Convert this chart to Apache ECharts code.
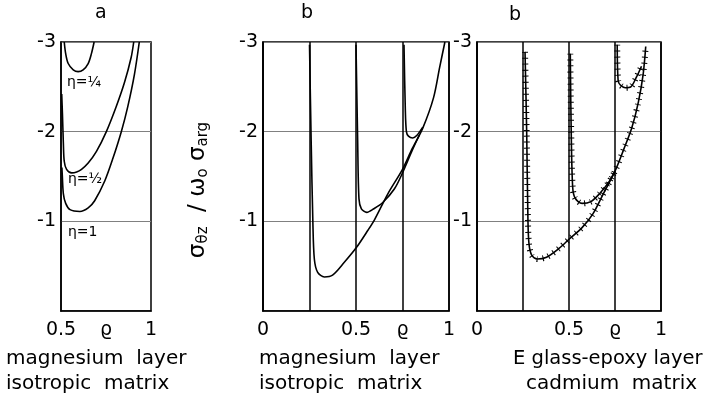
<!DOCTYPE html>
<html>
<head>
<meta charset="utf-8">
<script src="https://cdn.jsdelivr.net/npm/echarts@6/dist/echarts.min.js"></script>
<style>
  html, body { margin: 0; padding: 0; background: #fff; }
  #chart { width: 705px; height: 403px; }
</style>
</head>
<body>
<div id="chart"></div>
<script>
// ==================== data ====================
// y values are stress ratios (negative), x values are rho
const yTicks = [-3, -2, -1];

// panel a: magnesium layer, isotropic matrix
const etaQuarter = [[0.518, -3], [0.526, -2.87], [0.54, -2.76], [0.568, -2.69], [0.595, -2.67],
  [0.623, -2.69], [0.651, -2.76], [0.669, -2.87], [0.684, -3]];
const etaHalf = [[0.504, -2.42], [0.508, -2.2], [0.513, -1.88], [0.518, -1.67], [0.531, -1.58],
  [0.559, -1.54], [0.587, -1.55], [0.614, -1.58], [0.651, -1.65], [0.697, -1.78], [0.752, -2.0],
  [0.807, -2.28], [0.853, -2.55], [0.89, -2.83], [0.904, -3]];
const etaOne = [[0.505, -1.6], [0.507, -1.52], [0.513, -1.31], [0.526, -1.2], [0.55, -1.13],
  [0.605, -1.11], [0.651, -1.15], [0.687, -1.23], [0.743, -1.45], [0.788, -1.7], [0.835, -2.0],
  [0.871, -2.28], [0.908, -2.64], [0.935, -3]];

// panel b: magnesium layer, isotropic matrix
const bCurve1 = [[0.25, -2.97], [0.259, -1.89], [0.268, -1.0], [0.276, -0.58], [0.294, -0.43],
  [0.33, -0.38], [0.374, -0.4], [0.436, -0.54], [0.503, -0.71], [0.564, -0.9], [0.6, -1.02],
  [0.672, -1.31], [0.75, -1.58], [0.802, -1.81], [0.859, -2.04], [0.917, -2.38], [0.95, -2.72], [0.978, -3]];
const bCurve2 = [[0.5, -2.97], [0.509, -1.89], [0.516, -1.25], [0.529, -1.14], [0.558, -1.1],
  [0.596, -1.14], [0.644, -1.21], [0.706, -1.36], [0.75, -1.54], [0.802, -1.79], [0.84, -1.96]];
const bCurve3 = [[0.758, -2.97], [0.765, -2.26], [0.771, -2.0], [0.782, -1.95], [0.805, -1.93],
  [0.828, -1.96], [0.859, -2.05]];

// panel c: E glass-epoxy layer, cadmium matrix
const cCurve1 = [[0.261, -2.89], [0.27, -2.0], [0.277, -1.0], [0.283, -0.74], [0.298, -0.62],
  [0.327, -0.58], [0.378, -0.6], [0.447, -0.7], [0.5, -0.8], [0.571, -0.93], [0.629, -1.08],
  [0.687, -1.31], [0.75, -1.56], [0.797, -1.8], [0.841, -2.04], [0.877, -2.33], [0.903, -2.64], [0.917, -2.95]];
const cCurve2 = [[0.507, -2.87], [0.512, -2.0], [0.52, -1.38], [0.533, -1.26], [0.571, -1.2],
  [0.619, -1.22], [0.667, -1.31], [0.717, -1.44], [0.75, -1.56]];
const cCurve3 = [[0.762, -2.97], [0.767, -2.57], [0.779, -2.52], [0.806, -2.49], [0.836, -2.5],
  [0.867, -2.61], [0.894, -2.73]];

// ==================== helpers ====================
const FONT = 'DejaVu Sans';

function xAxisCfg(idx, min, gridLines) {
  return {
    gridIndex: idx, type: 'value', min: min, max: 1, interval: 0.25,
    axisLine: { show: true, lineStyle: { color: '#000', width: 1.5 } },
    axisTick: { show: false },
    axisLabel: {
      margin: 10, color: '#000', fontFamily: FONT, fontSize: 19,
      showMinLabel: true, showMaxLabel: true,
      formatter: function (v) {
        if (Math.abs(v - 0.75) < 1e-6) return 'ϱ';
        if (Math.abs(v - 0.25) < 1e-6) return '';
        return String(v);
      }
    },
    splitLine: { show: gridLines, lineStyle: { color: '#000', width: 1.5 } }
  };
}

function yAxisCfg(idx) {
  return {
    gridIndex: idx, type: 'value', min: -3, max: 0, interval: 1, inverse: true,
    axisLine: { show: true, lineStyle: { color: '#000', width: 1.5 } },
    axisTick: { show: false },
    axisLabel: {
      margin: 5, color: '#000', fontFamily: FONT, fontSize: 19,
      formatter: function (v) { return yTicks.indexOf(v) >= 0 ? String(v) : ''; }
    },
    splitLine: { show: true, lineStyle: { color: '#808080', width: 1 } }
  };
}

function curve(idx, data) {
  return {
    type: 'line', xAxisIndex: idx, yAxisIndex: idx, data: data,
    smooth: 0.3, showSymbol: false, silent: true,
    lineStyle: { color: '#000', width: 1.6 }
  };
}

function hatched(idx, data) {
  // thick dashed copy gives the little cross ticks along the curve
  const s = curve(idx, data);
  s.lineStyle = { color: '#000', width: 6, type: [1, 5], cap: 'butt' };
  return s;
}

function txt(x, y, text, size, align) {
  return {
    type: 'text', left: x, top: y,
    style: { text: text, fontFamily: FONT, fontSize: size, fill: '#000', textAlign: align || 'left' }
  };
}

// ==================== chart ====================
const chart = echarts.init(document.getElementById('chart'));
chart.setOption({
  animation: false,
  backgroundColor: '#fff',
  grid: [
    { left: 61, top: 42, width: 90, height: 269, show: true, borderColor: '#000', borderWidth: 1.5 },
    { left: 263, top: 42, width: 186, height: 269, show: true, borderColor: '#000', borderWidth: 1.5 },
    { left: 477, top: 42, width: 184, height: 269, show: true, borderColor: '#000', borderWidth: 1.5 }
  ],
  xAxis: [xAxisCfg(0, 0.5, false), xAxisCfg(1, 0, true), xAxisCfg(2, 0, true)],
  yAxis: [yAxisCfg(0), yAxisCfg(1), yAxisCfg(2)],
  series: [
    curve(0, etaQuarter), curve(0, etaHalf), curve(0, etaOne),
    curve(1, bCurve1), curve(1, bCurve2), curve(1, bCurve3),
    curve(2, cCurve1), curve(2, cCurve2), curve(2, cCurve3),
    hatched(2, cCurve1), hatched(2, cCurve2), hatched(2, cCurve3)
  ],
  graphic: [
    txt(95, 4, 'a', 19),
    txt(301, 4, 'b', 19),
    txt(509, 6, 'b', 19),
    txt(67, 75, 'η=¼', 14),
    txt(68, 172, 'η=½', 14),
    txt(68, 225, 'η=1', 14),
    txt(6, 349, 'magnesium  layer', 20),
    txt(6, 374, 'isotropic  matrix', 20),
    txt(259, 349, 'magnesium  layer', 20),
    txt(259, 374, 'isotropic  matrix', 20),
    txt(513, 349, 'E glass-epoxy layer', 19.5),
    txt(526, 374, 'cadmium  matrix', 20),
    {
      type: 'text', x: 198, y: 190, rotation: Math.PI / 2,
      style: {
        text: '{s|σ}{b|θz}{s|  / ω}{b|o}{s| σ}{b|arg}',
        fontFamily: FONT, fill: '#000', align: 'center', verticalAlign: 'middle',
        rich: {
          s: { fontFamily: FONT, fontSize: 23, fill: '#000' },
          b: { fontFamily: FONT, fontSize: 15, fill: '#000', padding: [10, 0, 0, 0] }
        }
      }
    }
  ]
});
</script>
</body>
</html>
